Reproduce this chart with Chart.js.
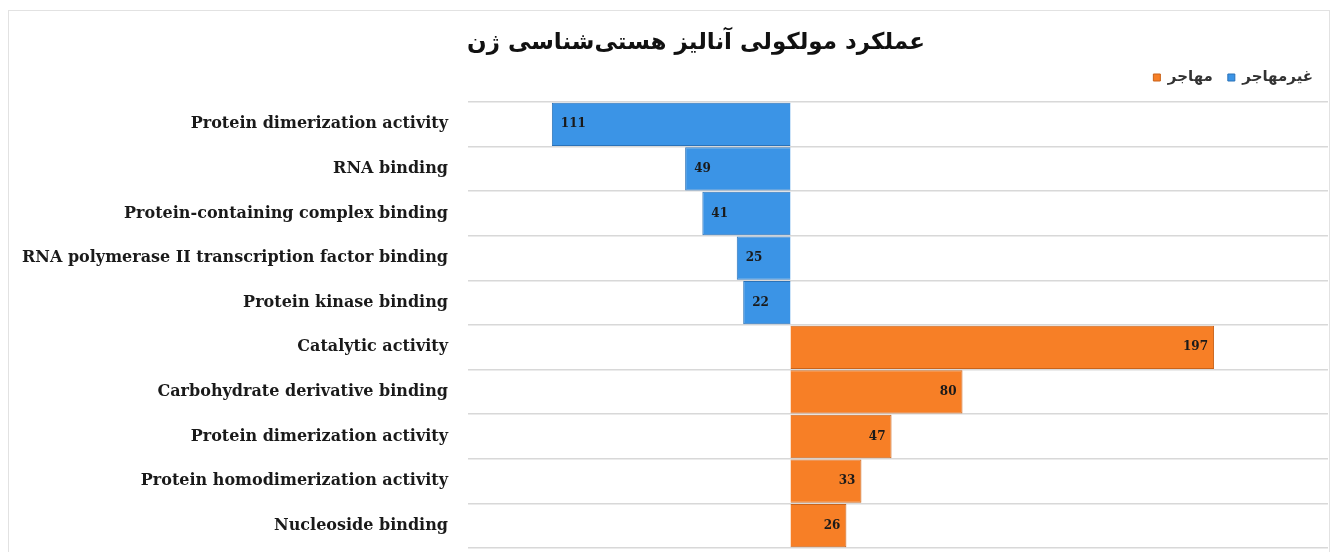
<!DOCTYPE html>
<html>
<head>
<meta charset="utf-8">
<script src="https://cdn.jsdelivr.net/npm/chart.js"></script>
<style>
    html, body { margin: 0; background: #fff; overflow: hidden; width: 1336px; height: 552px; }
    .frame {
        position: absolute; left: 8px; top: 10px; width: 1320px; height: 600px;
        border: 1px solid #e2e2e2;
    }
    #goChart { position: absolute; left: 0; top: 0; }
</style>
</head>
<body>
<div class="frame"></div>
<canvas id="goChart" width="1336" height="552"></canvas>
<script>
    // عملکرد مولکولی - داده‌ها
    const categories = [
        'Protein dimerization activity',
        'RNA binding',
        'Protein-containing complex binding',
        'RNA polymerase II transcription factor binding',
        'Protein kinase binding',
        'Catalytic activity',
        'Carbohydrate derivative binding',
        'Protein dimerization activity',
        'Protein homodimerization activity',
        'Nucleoside binding'
    ];
    const nonMigrant = [-111, -49, -41, -25, -22, null, null, null, null, null];
    const migrant = [null, null, null, null, null, 197, 80, 47, 33, 26];
    const xMin = -150;
    const xMax = 250;

    // برچسب مقدار داخل انتهای هر میله
    const valueLabels = {
        id: 'valueLabels',
        afterDatasetsDraw(chart) {
            const ctx = chart.ctx;
            ctx.save();
            ctx.font = 'bold 12px "DejaVu Serif"';
            ctx.fillStyle = '#1a1a1a';
            ctx.textBaseline = 'middle';
            chart.data.datasets.forEach((ds, i) => {
                chart.getDatasetMeta(i).data.forEach((bar, j) => {
                    const v = ds.data[j];
                    if (v === null) return;
                    if (v < 0) {
                        ctx.textAlign = 'left';
                        ctx.fillText(Math.abs(v), bar.x + 9, bar.y);
                    } else {
                        ctx.textAlign = 'right';
                        ctx.fillText(v, bar.x - 6, bar.y);
                    }
                });
            });
            ctx.restore();
        }
    };

    new Chart(document.getElementById('goChart'), {
        type: 'bar',
        data: {
            labels: categories,
            datasets: [{
                label: 'غیرمهاجر',
                data: nonMigrant,
                backgroundColor: '#3b94e6',
                borderColor: '#2a72b8',
                borderWidth: 1,
                barPercentage: 1,
                categoryPercentage: 0.97
            }, {
                label: 'مهاجر',
                data: migrant,
                backgroundColor: '#f77f26',
                borderColor: '#c9631a',
                borderWidth: 1,
                barPercentage: 1,
                categoryPercentage: 0.97
            }]
        },
        options: {
            indexAxis: 'y',
            responsive: false,
            animation: false,
            layout: { padding: { left: 8, right: 8, top: 8, bottom: 4 } },
            plugins: {
                title: {
                    display: true,
                    // فاصله‌های ابتدای متن برای جابه‌جایی عنوان به راست
                    text: '\u00A0\u00A0\u00A0\u00A0\u00A0\u00A0\u00A0عملکرد مولکولی آنالیز هستی‌شناسی ژن',
                    color: '#111',
                    font: { family: 'DejaVu Sans', size: 23, weight: 'bold', lineHeight: 1 },
                    padding: { top: 24, bottom: 0 }
                },
                legend: {
                    align: 'end',
                    reverse: true,
                    labels: {
                        color: '#333',
                        font: { family: 'DejaVu Sans', size: 15, weight: 'bold' },
                        boxWidth: 7,
                        boxHeight: 7,
                        padding: 15
                    }
                },
                tooltip: { enabled: false }
            },
            scales: {
                x: {
                    stacked: true,
                    min: xMin,
                    max: xMax,
                    display: false
                },
                // محور خالی بالا فقط برای فاصله بین راهنما و نمودار
                xTop: {
                    type: 'linear',
                    position: 'top',
                    ticks: { display: false },
                    grid: { display: false },
                    border: { display: false },
                    afterFit: (scale) => { scale.height = 7; }
                },
                y: {
                    stacked: true,
                    afterFit: (scale) => {
                        scale.width = 460;
                        scale.paddingBottom = 0;
                    },
                    border: { display: false },
                    grid: { color: '#d8d8d8', lineWidth: 1.5, drawTicks: false },
                    ticks: {
                        color: '#1a1a1a',
                        padding: 20,
                        font: { family: 'DejaVu Serif', size: 16, weight: 'bold' }
                    }
                }
            }
        },
        plugins: [valueLabels]
    });
</script>
</body>
</html>
